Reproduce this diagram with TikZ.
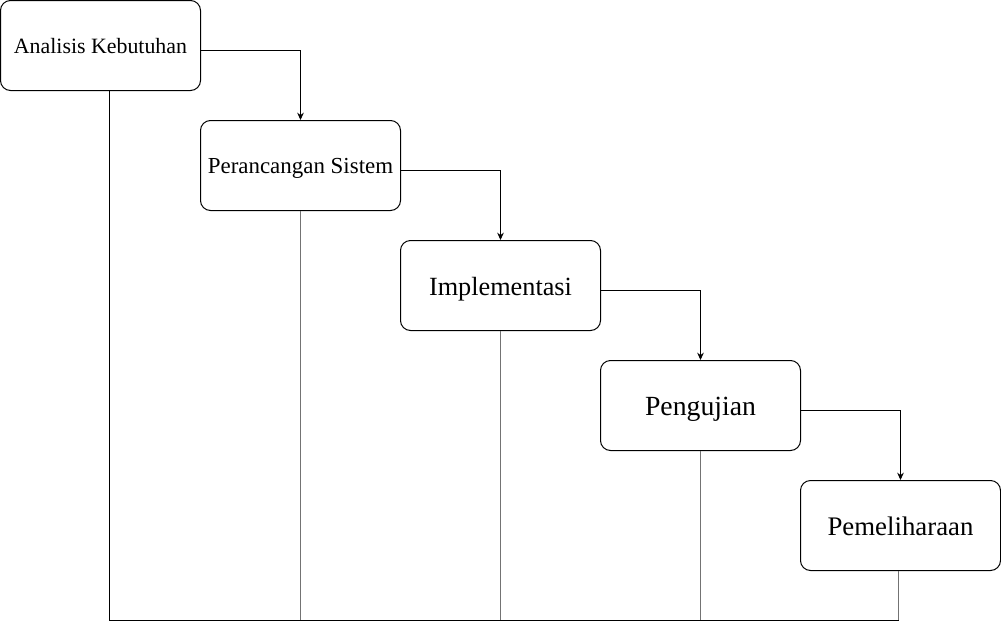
\documentclass[tikz,border=0pt]{standalone}
\usepackage{fontspec}
\setmainfont{Liberation Serif}
\usetikzlibrary{arrows.meta}

\begin{document}
\begin{tikzpicture}[x=0.75pt,y=-0.75pt,
        stage/.style={draw,rounded corners=7.5pt,minimum width=150pt,minimum height=67.5pt,inner sep=0pt,line width=0.75pt,
            font=\fontsize{#1}{#1}\selectfont,text height={0.96*#1pt},text depth={0.22*#1pt}},
        flow/.style={-{Stealth[length=5.5pt,width=5pt]},line width=0.75pt},
        drop/.style={line width=0.75pt,black!55}]
        \useasboundingbox (0,0) rectangle (1001,622);
        % Draw stages
        \node[stage=16.4] (analisis) at (100.5,45.5) {Analisis Kebutuhan};
        \node[stage=17.2] (perancangan) at (300.5,165.5) {Perancangan Sistem};
        \node[stage=19.7] (implementasi) at (500.5,285.5) {Implementasi};
        \node[stage=20.8] (pengujian) at (700.5,405.5) {Pengujian};
        \node[stage=20.1] (pemeliharaan) at (900.5,525.5) {Pemeliharaan};
        % Draw flow arrows
        \draw[flow] ([yshift=-3.5pt]analisis.east) -| (perancangan.north);
        \draw[flow] ([yshift=-3.75pt]perancangan.east) -| (implementasi.north);
        \draw[flow] ([yshift=-3.75pt]implementasi.east) -| (pengujian.north);
        \draw[flow] ([yshift=-3.75pt]pengujian.east) -| (pemeliharaan.north);
        % Draw base line
        \coordinate (base) at (0,620);
        \draw[line width=0.75pt] ([xshift=7pt]analisis.south) |- ([xshift=-1.5pt]pemeliharaan.south |- base);
        \foreach \n in {perancangan,implementasi,pengujian}
            \draw[drop] (\n.south) -- (\n.south |- base);
        \draw[drop] ([xshift=-1.5pt]pemeliharaan.south) -- ([xshift=-1.5pt]pemeliharaan.south |- base);
    \end{tikzpicture}
\end{document}
